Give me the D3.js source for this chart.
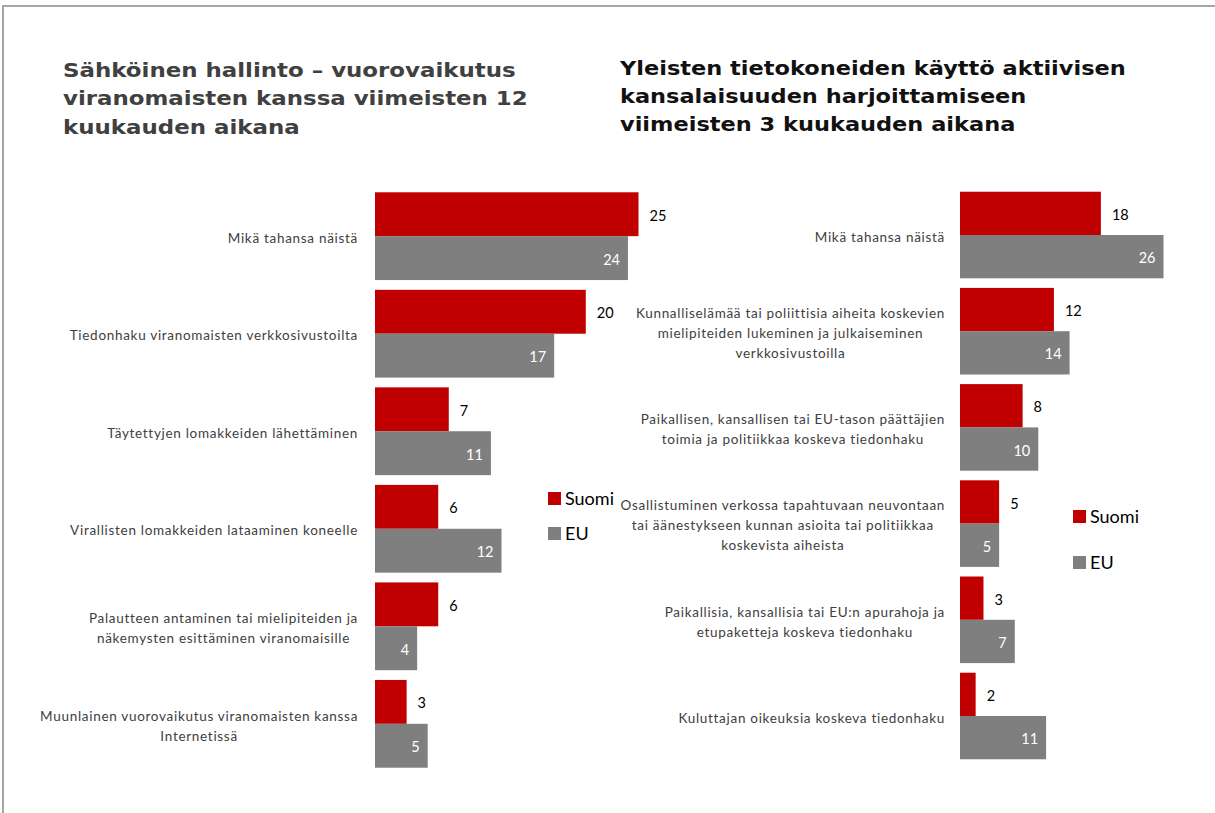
<!DOCTYPE html>
<html><head><meta charset="utf-8">
<script src="https://cdn.jsdelivr.net/npm/d3@7"></script>
<style>body{margin:0;background:#fff}svg{display:block}</style>
</head><body>
<svg id="c" width="1215" height="813"></svg>
<script>
// ---------- DATA ----------
const seriesNames = ["Suomi", "EU"];

const leftTitle = ["Sähköinen hallinto – vuorovaikutus", "viranomaisten kanssa viimeisten 12", "kuukauden aikana"];
const leftCategories = [
  ["Mikä tahansa näistä"],
  ["Tiedonhaku viranomaisten verkkosivustoilta"],
  ["Täytettyjen lomakkeiden lähettäminen"],
  ["Virallisten lomakkeiden lataaminen koneelle"],
  ["Palautteen antaminen tai mielipiteiden ja", "näkemysten esittäminen viranomaisille"],
  ["Muunlainen vuorovaikutus viranomaisten kanssa", "Internetissä"]
];
const leftSuomi = [25, 20, 7, 6, 6, 3];
const leftEU = [24, 17, 11, 12, 4, 5];

const rightTitle = ["Yleisten tietokoneiden käyttö aktiivisen", "kansalaisuuden harjoittamiseen", "viimeisten 3 kuukauden aikana"];
const rightCategories = [
  ["Mikä tahansa näistä"],
  ["Kunnalliselämää tai poliittisia aiheita koskevien", "mielipiteiden lukeminen ja julkaiseminen", "verkkosivustoilla"],
  ["Paikallisen, kansallisen tai EU-tason päättäjien", "toimia ja politiikkaa koskeva tiedonhaku"],
  ["Osallistuminen verkossa tapahtuvaan neuvontaan", "tai äänestykseen kunnan asioita tai politiikkaa", "koskevista aiheista"],
  ["Paikallisia, kansallisia tai EU:n apurahoja ja", "etupaketteja koskeva tiedonhaku"],
  ["Kuluttajan oikeuksia koskeva tiedonhaku"]
];
const rightSuomi = [18, 12, 8, 5, 3, 2];
const rightEU = [26, 14, 10, 5, 7, 11];

// ---------- STYLE / LAYOUT ----------
const colors = { Suomi: "#C00000", EU: "#7F7F7F" };
const FONT = "Lato, 'Open Sans', sans-serif";
const TITLE_FONT = "'DejaVu Sans', sans-serif";

const svg = d3.select("#c");

// frame
svg.append("path")
  .attr("d", "M3,813 V6 H1215")
  .attr("fill", "none")
  .attr("stroke", "#a6a6a6")
  .attr("stroke-width", 2);

function drawPanel(cfg) {
  const g = svg.append("g");
  const idx = d3.range(cfg.cats.length);

  // title (stretched horizontally to the reference width)
  const t = g.append("text")
    .attr("font-family", TITLE_FONT)
    .attr("font-weight", "bold")
    .attr("font-size", cfg.titleSize)
    .attr("fill", cfg.titleColor);
  const tl = cfg.title.map((line, i) =>
    t.append("tspan").attr("x", cfg.titleX).attr("y", cfg.titleY + i * cfg.titleLead).text(line));
  const w0 = tl[0].node().getComputedTextLength();
  const sx = cfg.titleWidth / w0;
  t.attr("transform", `translate(${cfg.titleX},0) scale(${sx},1) translate(${-cfg.titleX},0)`);

  const y = d3.scaleBand().domain(idx).range(cfg.yRange).paddingInner(0.1).paddingOuter(0.05);
  const ys = d3.scaleBand().domain(seriesNames).range([0, y.bandwidth()]);
  const x = d3.scaleLinear().domain(cfg.xDomain).range(cfg.xRange);

  const rows = idx.map(i => ({ i, cat: cfg.cats[i], Suomi: cfg.suomi[i], EU: cfg.eu[i] }));

  const grp = g.selectAll("g.row").data(rows).enter().append("g")
    .attr("transform", d => `translate(0,${y(d.i)})`);

  seriesNames.forEach(s => {
    grp.append("rect")
      .attr("x", x(0))
      .attr("y", ys(s))
      .attr("width", d => x(d[s]) - x(0))
      .attr("height", ys.bandwidth())
      .attr("fill", colors[s]);
  });

  // value labels
  grp.append("text")
    .attr("x", d => x(d.Suomi) + 11)
    .attr("y", ys("Suomi") + ys.bandwidth() / 2 + 1.5)
    .attr("dy", "0.35em")
    .attr("font-family", FONT).attr("font-size", 14.5)
    .attr("fill", "#000")
    .text(d => d.Suomi);
  grp.append("text")
    .attr("x", d => x(d.EU) - 8)
    .attr("y", ys("EU") + ys.bandwidth() / 2 + 1.5)
    .attr("dy", "0.35em")
    .attr("text-anchor", "end")
    .attr("font-family", FONT).attr("font-size", 14.5)
    .attr("fill", "#fff")
    .text(d => d.EU);

  // category labels (centered block, right edge aligned)
  grp.each(function (d) {
    const el = d3.select(this);
    const lines = d.cat;
    const txt = el.append("text")
      .attr("font-family", FONT).attr("font-size", cfg.labelSize)
      .attr("letter-spacing", cfg.labelSpacing)
      .attr("fill", "#404040")
      .attr("text-anchor", "middle");
    const tsp = lines.map(l => txt.append("tspan").text(l));
    const maxW = d3.max(tsp, s => s.node().getComputedTextLength());
    const cx = cfg.labelRight - maxW / 2;
    const c = y.bandwidth() / 2 + 2;
    tsp.forEach((s, k) => {
      s.attr("x", cx).attr("y", c + (k - (lines.length - 1) / 2) * 20).attr("dy", "0.35em");
    });
  });

  // legend
  seriesNames.forEach((s, k) => {
    const ly = cfg.legendY + k * cfg.legendGap;
    g.append("rect").attr("x", cfg.legendX).attr("y", ly).attr("width", 13).attr("height", 13).attr("fill", colors[s]);
    g.append("text").attr("x", cfg.legendX + 17).attr("y", ly + 12.5)
      .attr("font-family", FONT).attr("font-size", 18).attr("fill", "#000").text(s);
  });
}

drawPanel({
  title: leftTitle, titleX: 63, titleY: 77, titleLead: 28.5, titleSize: 19, titleColor: "#404040", titleWidth: 453,
  cats: leftCategories, suomi: leftSuomi, eu: leftEU,
  yRange: [187.4, 772.6], xDomain: [0, 25], xRange: [375, 638.5],
  labelRight: 358, labelSize: 13.5, labelSpacing: 0.7,
  legendX: 548, legendY: 492, legendGap: 35
});
drawPanel({
  title: rightTitle, titleX: 620, titleY: 75, titleLead: 28, titleSize: 20, titleColor: "#111", titleWidth: 506,
  cats: rightCategories, suomi: rightSuomi, eu: rightEU,
  yRange: [186.9, 764.1], xDomain: [0, 26], xRange: [960, 1163.5],
  labelRight: 945, labelSize: 13.5, labelSpacing: 0.7,
  legendX: 1073, legendY: 510, legendGap: 46
});
</script>
</body></html>
